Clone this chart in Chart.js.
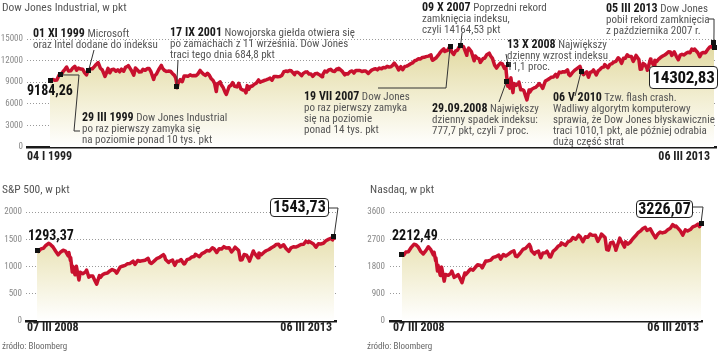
<!DOCTYPE html>
<html><head><meta charset="utf-8">
<script src="https://cdn.jsdelivr.net/npm/chart.js@4"></script>
<style>
body{margin:0;width:720px;height:351px;position:relative;overflow:hidden;background:#fff;font-family:"Liberation Sans Narrow","Arial Narrow","Roboto Condensed","DejaVu Sans Condensed",sans-serif;}
canvas{position:absolute}
.t{position:absolute;font-size:11px;line-height:11px;color:#555;white-space:nowrap}
.t b{color:#1a1a1a;font-size:12px;line-height:11px}
.title{position:absolute;font-size:11.5px;line-height:12px;color:#555;white-space:nowrap}
.val{position:absolute;font-weight:bold;color:#111;font-size:14px;line-height:16px;white-space:nowrap}
.box{position:absolute;box-sizing:border-box;border:1.5px solid #222;border-radius:4px;background:#fff;font-weight:bold;color:#111;text-align:center;white-space:nowrap;overflow:visible}
.date{position:absolute;font-weight:bold;font-size:12px;line-height:12px;color:#222;white-space:nowrap}
.src{position:absolute;font-size:9px;line-height:10px;color:#666;white-space:nowrap}
</style></head>
<body>
<canvas id="dj" width="720" height="175" style="left:0;top:0"></canvas>
<canvas id="sp" width="360" height="176" style="left:0;top:175px"></canvas>
<canvas id="nq" width="360" height="176" style="left:360px;top:175px"></canvas>

<div class="title" style="left:2px;top:1px">Dow Jones Industrial, w pkt</div>
<div class="title" style="left:2px;top:183px">S&amp;P 500, w pkt</div>
<div class="title" style="left:370px;top:183px">Nasdaq, w pkt</div>

<div class="t" style="left:33px;top:28px"><b>01 XI 1999</b> Microsoft<br>oraz Intel dodane do indeksu</div>
<div class="t" style="left:170px;top:27px"><b>17 IX 2001</b> Nowojorska giełda otwiera się<br>po zamachach z 11 września. Dow Jones<br>traci tego dnia 684,8 pkt</div>
<div class="t" style="left:82px;top:112px"><b>29 III 1999</b> Dow Jones Industrial<br>po raz pierwszy zamyka się<br>na poziomie ponad 10 tys. pkt</div>
<div class="t" style="left:304px;top:91px"><b>19 VII 2007</b> Dow Jones<br>po raz pierwszy zamyka<br>się na poziomie<br>ponad 14 tys. pkt</div>
<div class="t" style="left:422px;top:2px"><b>09 X 2007</b> Poprzedni rekord<br>zamknięcia indeksu,<br>czyli 14164,53 pkt</div>
<div class="t" style="left:507px;top:39px"><b>13 X 2008</b> Największy<br>dzienny wzrost indeksu<br>11,1 proc.</div>
<div class="t" style="left:432px;top:103px"><b>29.09.2008</b> Największy<br>dzienny spadek indeksu:<br>777,7 pkt, czyli 7 proc.</div>
<div class="t" style="left:553px;top:92px"><b>06 V 2010</b> Tzw. flash crash.<br>Wadliwy algorytm komputerowy<br>sprawia, że Dow Jones błyskawicznie<br>traci 1010,1 pkt, ale później odrabia<br>dużą część strat</div>
<div class="t" style="left:606px;top:3px"><b>05 III 2013</b> Dow Jones<br>pobił rekord zamknięcia<br>z października 2007 r.</div>

<div class="val" style="left:27px;top:82px">9184,26</div>
<div class="box" style="left:649px;top:66px;width:69px;height:23px;font-size:17px;line-height:20px;letter-spacing:-0.3px">14302,83</div>
<div class="val" style="left:28px;top:227px">1293,37</div>
<div class="box" style="left:270px;top:198px;width:59px;height:19px;font-size:16px;line-height:16px">1543,73</div>
<div class="val" style="left:392px;top:227px">2212,49</div>
<div class="box" style="left:636px;top:200px;width:57px;height:18px;font-size:16px;line-height:15px">3226,07</div>

<div class="date" style="left:27px;top:150px">04 I 1999</div>
<div class="date" style="right:10px;top:150px">06 III 2013</div>
<div class="date" style="left:27px;top:321px">07 III 2008</div>
<div class="date" style="right:388px;top:321px">06 III 2013</div>
<div class="date" style="left:393px;top:321px">07 III 2008</div>
<div class="date" style="right:21px;top:321px">06 III 2013</div>

<div class="src" style="left:2px;top:341px">źródło: Bloomberg</div>
<div class="src" style="left:367px;top:341px">źródło: Bloomberg</div>

<script>
// ---------- Dow Jones Industrial ----------
const djDates = [
'1999-01-04','1999-01-15','1999-01-29','1999-02-12','1999-02-26','1999-03-15','1999-03-29','1999-04-15','1999-04-30','1999-05-13','1999-05-28','1999-06-15','1999-06-30','1999-07-16','1999-07-30','1999-08-13','1999-08-31','1999-09-15','1999-09-30','1999-10-15','1999-10-29','1999-11-01','1999-11-15','1999-11-30','1999-12-15','1999-12-31',
'2000-01-14','2000-01-31','2000-02-15','2000-02-29','2000-03-07','2000-03-15','2000-03-31','2000-04-14','2000-04-28','2000-05-15','2000-05-31','2000-06-15','2000-06-30','2000-07-14','2000-07-31','2000-08-15','2000-08-31','2000-09-06','2000-09-29','2000-10-18','2000-10-31','2000-11-15','2000-11-30','2000-12-15','2000-12-29',
'2001-01-15','2001-01-31','2001-02-15','2001-02-28','2001-03-22','2001-03-30','2001-04-13','2001-04-30','2001-05-21','2001-05-31','2001-06-15','2001-06-29','2001-07-13','2001-07-31','2001-08-15','2001-08-31','2001-09-10','2001-09-17','2001-09-21','2001-09-28','2001-10-15','2001-10-31','2001-11-15','2001-11-30','2001-12-14','2001-12-31',
'2002-01-15','2002-01-31','2002-02-15','2002-02-28','2002-03-19','2002-03-28','2002-04-15','2002-04-30','2002-05-15','2002-05-31','2002-06-14','2002-06-28','2002-07-10','2002-07-23','2002-07-31','2002-08-22','2002-08-30','2002-09-13','2002-09-30','2002-10-09','2002-10-31','2002-11-15','2002-11-27','2002-12-13','2002-12-31',
'2003-01-14','2003-01-31','2003-02-14','2003-02-28','2003-03-11','2003-03-21','2003-03-31','2003-04-15','2003-04-30','2003-05-15','2003-05-30','2003-06-17','2003-06-30','2003-07-15','2003-07-31','2003-08-15','2003-08-29','2003-09-15','2003-09-30','2003-10-15','2003-10-31','2003-11-14','2003-11-28','2003-12-15','2003-12-31',
'2004-01-15','2004-01-30','2004-02-13','2004-02-27','2004-03-24','2004-03-31','2004-04-15','2004-04-30','2004-05-17','2004-05-28','2004-06-15','2004-06-30','2004-07-15','2004-07-30','2004-08-13','2004-08-31','2004-09-15','2004-09-30','2004-10-25','2004-10-29','2004-11-15','2004-11-30','2004-12-15','2004-12-31',
'2005-01-14','2005-01-31','2005-02-15','2005-02-28','2005-03-04','2005-03-31','2005-04-20','2005-04-29','2005-05-13','2005-05-31','2005-06-15','2005-06-30','2005-07-15','2005-07-29','2005-08-15','2005-08-31','2005-09-15','2005-09-30','2005-10-20','2005-10-31','2005-11-15','2005-11-30','2005-12-15','2005-12-30',
'2006-01-13','2006-01-31','2006-02-15','2006-02-28','2006-03-15','2006-03-31','2006-04-14','2006-04-28','2006-05-10','2006-05-31','2006-06-13','2006-06-30','2006-07-14','2006-07-31','2006-08-15','2006-08-31','2006-09-15','2006-09-29','2006-10-16','2006-10-31','2006-11-15','2006-11-30','2006-12-15','2006-12-29',
'2007-01-12','2007-01-31','2007-02-20','2007-02-27','2007-03-05','2007-03-30','2007-04-16','2007-04-30','2007-05-15','2007-05-31','2007-06-07','2007-06-29','2007-07-19','2007-07-31','2007-08-16','2007-08-31','2007-09-14','2007-09-28','2007-10-09','2007-10-31','2007-11-26','2007-11-30','2007-12-10','2007-12-31',
'2008-01-22','2008-01-31','2008-02-15','2008-02-29','2008-03-10','2008-03-31','2008-04-15','2008-04-30','2008-05-19','2008-05-30','2008-06-13','2008-06-30','2008-07-15','2008-07-31','2008-08-15','2008-08-29','2008-09-15','2008-09-26','2008-09-29','2008-10-10','2008-10-13','2008-10-27','2008-10-31','2008-11-04','2008-11-20','2008-11-28','2008-12-15','2008-12-31',
'2009-01-06','2009-01-20','2009-01-30','2009-02-13','2009-02-27','2009-03-09','2009-03-26','2009-03-31','2009-04-15','2009-04-30','2009-05-15','2009-05-29','2009-06-12','2009-06-30','2009-07-10','2009-07-31','2009-08-14','2009-08-31','2009-09-15','2009-09-30','2009-10-19','2009-10-30','2009-11-16','2009-11-30','2009-12-15','2009-12-31',
'2010-01-19','2010-01-29','2010-02-08','2010-02-26','2010-03-15','2010-03-31','2010-04-26','2010-04-30','2010-05-06','2010-05-25','2010-05-28','2010-06-18','2010-06-30','2010-07-02','2010-07-15','2010-07-30','2010-08-09','2010-08-27','2010-08-31','2010-09-15','2010-09-30','2010-10-15','2010-10-29','2010-11-05','2010-11-30','2010-12-15','2010-12-31',
'2011-01-14','2011-01-31','2011-02-18','2011-02-28','2011-03-16','2011-03-31','2011-04-15','2011-04-29','2011-05-13','2011-05-31','2011-06-15','2011-06-30','2011-07-07','2011-07-29','2011-08-08','2011-08-19','2011-08-31','2011-09-15','2011-09-30','2011-10-03','2011-10-27','2011-10-31','2011-11-25','2011-11-30','2011-12-15','2011-12-30',
'2012-01-13','2012-01-31','2012-02-15','2012-02-29','2012-03-16','2012-03-30','2012-04-10','2012-04-30','2012-05-15','2012-06-01','2012-06-15','2012-06-29','2012-07-13','2012-07-31','2012-08-15','2012-08-31','2012-09-14','2012-09-28','2012-10-05','2012-10-31','2012-11-15','2012-11-30','2012-12-14','2012-12-31',
'2013-01-15','2013-01-31','2013-02-15','2013-02-25','2013-02-28','2013-03-05','2013-03-06'];
const djValues = [
9184,9340,9359,9274,9307,9959,10007,10463,10789,11107,10560,10595,10971,11210,10655,10974,10829,10801,10337,10020,10729,10648,10873,10878,11161,11497,
11723,10941,10718,10128,9796,10131,10922,10306,10734,10807,10522,10714,10448,10812,10522,11067,11215,11310,10651,9975,10971,10707,10415,10434,10787,
10652,10887,10891,10495,9389,9879,10127,10735,11337,10912,10623,10502,10539,10523,10218,9950,9606,8921,8236,8848,9347,9075,9872,9852,9812,10022,
9891,9920,9904,10106,10635,10404,10094,9946,10243,9925,9474,9243,8814,7702,8737,9053,8664,8312,7592,7286,8397,8580,8931,8433,8342,
8843,8054,7909,7891,7524,8522,7992,8403,8480,8713,8850,9323,8985,9128,9234,9321,9416,9567,9275,9803,9801,9768,9782,9934,10454,
10553,10488,10628,10584,10048,10358,10397,10226,9907,10188,10402,10435,10140,10140,9815,10174,10229,10080,9750,10027,10551,10428,10691,10783,
10558,10490,10837,10766,10941,10504,10012,10193,10140,10467,10566,10275,10640,10641,10634,10482,10558,10569,10215,10440,10675,10806,10881,10718,
10960,10865,11058,10993,11210,11109,11138,11367,11642,11168,10706,11150,10740,11186,11231,11381,11560,11679,11980,12081,12251,12221,12445,12463,
12556,12622,12786,12216,12050,12354,12720,13063,13383,13628,13267,13409,14000,13212,12846,13358,13442,13896,14165,13930,12743,13372,13727,13265,
11971,12650,12348,12266,11741,12263,12362,12820,13028,12638,12307,11350,10963,11378,11660,11544,10918,11143,10365,8451,9387,8176,9325,9625,7552,8829,8565,8776,
9015,7950,8001,7850,7063,6547,7924,7609,8029,8168,8268,8500,8799,8447,8146,9172,9321,9496,9683,9712,10092,9713,10406,10345,10452,10428,
10725,10067,9908,10325,10642,10857,11205,11009,10520,10043,10137,10450,9774,9686,10359,10466,10698,10150,10015,10572,10788,11063,11118,11444,11006,11457,11578,
11787,11892,12391,12226,11613,12320,12342,12811,12596,12570,11898,12414,12719,12143,10810,10817,11614,11433,10913,10655,12209,11955,11231,12046,11868,12218,
12422,12633,12781,12952,13233,13212,12716,13214,12632,12119,12767,12880,12777,13009,13165,13091,13594,13437,13610,13096,12543,13026,13135,13104,
13535,13861,13981,13784,14054,14254,14302.83];
const djYTicks = [0,3000,6000,9000,12000,15000];
const djMarkerDates  = ['1999-01-04','1999-03-29','1999-11-01','2001-09-17','2007-07-19','2007-10-09','2008-10-13','2008-09-29','2010-05-06','2013-03-05','2013-03-06'];
const djMarkerValues = [9184.26,10006.78,10648.18,8350,14000.41,14164.53,11390,9030,10520,14580,13800];

// ---------- S&P 500 ----------
const spDates = [
'2008-03-07','2008-03-17','2008-03-31','2008-04-15','2008-04-30','2008-05-19','2008-05-30','2008-06-13','2008-06-30','2008-07-15','2008-07-31','2008-08-15','2008-08-29','2008-09-15','2008-09-19','2008-09-29','2008-09-30','2008-10-10','2008-10-13','2008-10-27','2008-10-31','2008-11-04','2008-11-20','2008-11-28','2008-12-15','2008-12-31',
'2009-01-06','2009-01-20','2009-01-30','2009-02-13','2009-02-27','2009-03-09','2009-03-26','2009-03-31','2009-04-15','2009-04-30','2009-05-15','2009-05-29','2009-06-12','2009-06-30','2009-07-10','2009-07-31','2009-08-14','2009-08-31','2009-09-15','2009-09-30','2009-10-19','2009-10-30','2009-11-16','2009-11-30','2009-12-15','2009-12-31',
'2010-01-19','2010-01-29','2010-02-08','2010-02-26','2010-03-15','2010-03-31','2010-04-23','2010-04-30','2010-05-06','2010-05-25','2010-05-28','2010-06-18','2010-06-30','2010-07-02','2010-07-15','2010-07-30','2010-08-09','2010-08-26','2010-08-31','2010-09-15','2010-09-30','2010-10-15','2010-10-29','2010-11-05','2010-11-30','2010-12-15','2010-12-31',
'2011-01-14','2011-01-31','2011-02-18','2011-02-28','2011-03-16','2011-03-31','2011-04-15','2011-04-29','2011-05-13','2011-05-31','2011-06-15','2011-06-30','2011-07-07','2011-07-29','2011-08-08','2011-08-19','2011-08-31','2011-09-15','2011-09-30','2011-10-03','2011-10-27','2011-10-31','2011-11-25','2011-11-30','2011-12-15','2011-12-30',
'2012-01-13','2012-01-31','2012-02-15','2012-02-29','2012-03-16','2012-03-30','2012-04-10','2012-04-30','2012-05-15','2012-06-01','2012-06-15','2012-06-29','2012-07-13','2012-07-31','2012-08-15','2012-08-31','2012-09-14','2012-09-28','2012-10-05','2012-10-31','2012-11-15','2012-11-30','2012-12-14','2012-12-31',
'2013-01-15','2013-01-31','2013-02-15','2013-02-25','2013-02-28','2013-03-06'];
const spValues = [
1293,1277,1323,1334,1386,1426,1400,1360,1280,1214,1267,1298,1283,1193,1255,1106,1166,899,1003,848,969,1006,752,896,868,903,
935,805,826,827,735,677,833,798,852,873,882,919,946,919,879,987,1005,1021,1052,1057,1097,1036,1110,1096,1107,1115,
1150,1074,1056,1104,1150,1169,1217,1187,1128,1074,1089,1117,1031,1022,1096,1102,1128,1047,1049,1125,1141,1176,1183,1225,1181,1236,1258,
1293,1286,1343,1327,1257,1326,1320,1364,1338,1345,1266,1321,1354,1292,1119,1124,1219,1209,1131,1099,1285,1253,1159,1247,1216,1258,
1289,1312,1343,1366,1404,1408,1358,1398,1330,1278,1343,1362,1357,1379,1405,1407,1465,1441,1461,1412,1353,1416,1414,1426,
1472,1498,1519,1488,1515,1543.73];
const spYTicks = [0,500,1000,1500,2000];
const spMarkerDates = ['2008-03-07','2013-03-06'];
const spMarkerValues = [1293.37,1543.73];

// ---------- Nasdaq ----------
const nqDates = spDates;
const nqValues = [
2212,2177,2279,2286,2413,2533,2523,2454,2293,2215,2326,2453,2368,2180,2273,1983,2092,1649,1844,1505,1721,1780,1316,1536,1508,1577,
1652,1440,1476,1534,1378,1268,1587,1529,1626,1717,1680,1774,1858,1835,1756,1979,1985,2009,2102,2122,2177,2045,2197,2145,2201,2269,
2320,2147,2126,2238,2362,2398,2530,2461,2320,2210,2257,2309,2109,2092,2249,2255,2305,2118,2114,2301,2369,2468,2507,2578,2498,2617,2653,
2755,2700,2833,2782,2617,2781,2764,2874,2828,2835,2631,2774,2872,2756,2358,2341,2579,2607,2415,2335,2738,2684,2441,2620,2541,2605,
2710,2814,2915,2967,3055,3092,2991,3046,2893,2747,2872,2935,2908,2940,3016,3067,3184,3116,3136,2977,2836,3010,2971,3020,
3110,3142,3198,3117,3160,3226.07];
const nqYTicks = [0,900,1800,2700,3600];
const nqMarkerDates = ['2008-03-07','2013-03-06'];
const nqMarkerValues = [2212.49,3226.07];

// ---------- helpers ----------
function dec(s){const [y,m,d]=s.split('-').map(Number);const t=Date.UTC(y,m-1,d),a=Date.UTC(y,0,1),b=Date.UTC(y+1,0,1);return y+(t-a)/(b-a);}
const FONT='"Liberation Sans Narrow","Arial Narrow","Roboto Condensed",sans-serif';

function makeChart(id, dates, values, ticks, cfg){
  const markerPlugin = {
    id:'mk'+id,
    afterDatasetsDraw(chart){
      const c=chart.ctx, xs=chart.scales.x, ys=chart.scales.y;
      c.save();
      cfg.mDates.forEach((d,i)=>{
        const px=xs.getPixelForValue(dec(d)), py=ys.getPixelForValue(cfg.mValues[i]);
        const path=cfg.leaders[i];
        if(path){
          c.strokeStyle='#333';c.lineWidth=1;c.beginPath();c.moveTo(px,py);
          path.forEach(p=>c.lineTo(p[0],p[1]));c.stroke();
        }
      });
      cfg.mDates.forEach((d,i)=>{
        const px=xs.getPixelForValue(dec(d)), py=ys.getPixelForValue(cfg.mValues[i]);
        c.fillStyle='#111';c.fillRect(Math.round(px-2.5),Math.round(py-2.5),5,5);
      });
      c.restore();
    }
  };
  return new Chart(document.getElementById(id),{
    type:'line',
    data:{datasets:[{
      data:dates.map((d,i)=>({x:dec(d),y:values[i]})),
      borderColor:'#c8102e',borderWidth:3.5,pointRadius:0,tension:0,
      borderJoinStyle:'round',fill:'origin',
      backgroundColor:(ctx)=>{const ch=ctx.chart,a=ch.chartArea;if(!a)return 'rgba(0,0,0,0)';
        const g=ch.ctx.createLinearGradient(0,a.top,0,a.bottom);
        g.addColorStop(0,'rgb(224,215,156)');g.addColorStop(0.55,'rgb(242,238,210)');g.addColorStop(1,'rgb(255,255,255)');return g;}
    }]},
    options:{
      responsive:false,animation:false,devicePixelRatio:1,
      layout:{padding:{left:0,right:cfg.pr,top:cfg.pt,bottom:cfg.pb}},
      plugins:{legend:{display:false},tooltip:{enabled:false}},
      scales:{
        x:{type:'linear',min:cfg.xMin,max:cfg.xMax,ticks:{display:false},
           grid:{display:false,drawTicks:false},border:{display:true,color:'#1a1a1a',width:2.5},
           afterFit(s){s.height=0;}},
        y:{min:0,max:ticks[ticks.length-1],
           afterBuildTicks(s){s.ticks=ticks.map(v=>({value:v}));},
           ticks:{color:'#888',font:{size:9,family:FONT},padding:cfg.tp,autoSkip:false,callback:(v)=>String(v)},
           grid:{color:(c)=>c.tick&&c.tick.value===0?'rgba(0,0,0,0)':'#9a9a9a',drawTicks:false,lineWidth:1},
           border:{display:false,dash:[1,2]},
           afterFit(s){s.width=cfg.yw;}}
      }
    },
    plugins:[markerPlugin]
  });
}

makeChart('dj',djDates,djValues,djYTicks,{
  pr:4,pt:39,pb:28,yw:27,tp:4,xMin:1998.517,xMax:2013.218,
  mDates:djMarkerDates,mValues:djMarkerValues,
  leaders:[null,[[79,75],[74,131],[80,131]],[[94,50]],[[178,60]],[[446,88],[378,88]],[[462,33]],[[506,54]],[[499,102]],[[575,96]],[[714,32],[714,19],[708,19]],null]
});
makeChart('sp',spDates,spValues,spYTicks,{
  pr:24,pt:37,pb:30,yw:26,tp:4,xMin:2007.995,xMax:2013.209,
  mDates:spMarkerDates,mValues:spMarkerValues,
  leaders:[null,[[338,33],[329,33]]]
});
makeChart('nq',nqDates,nqValues,nqYTicks,{
  pr:18,pt:37,pb:30,yw:30,tp:5,xMin:2007.980,xMax:2013.192,
  mDates:nqMarkerDates,mValues:nqMarkerValues,
  leaders:[null,[[343,32],[333,32]]]
});
</script>
</body></html>
